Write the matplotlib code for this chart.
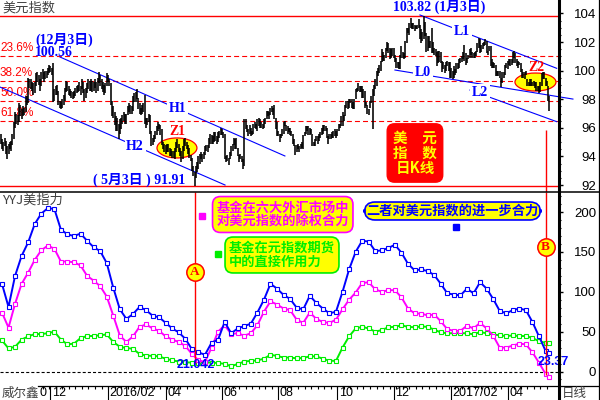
import numpy as np
import pandas as pd
import matplotlib
matplotlib.use("Agg")
import matplotlib.pyplot as plt
import matplotlib.transforms as mtransforms
from matplotlib.lines import Line2D
from matplotlib.patches import Ellipse

plt.rcParams["font.family"] = ["Liberation Sans", "Noto Sans CJK SC", "DejaVu Sans"]
plt.rcParams["lines.scale_dashes"] = False

CJK = ["Noto Sans CJK SC", "DejaVu Sans"]
SERIF = ["Liberation Serif", "Noto Sans CJK SC"]

# ---------------------------------------------------------------- data
trade_days = pd.bdate_range("2015-10-08", "2017-05-17")

# daily low / high of the US dollar index, one row per month
day_low = [
    94.9, 94.5, 94.4, 94.7, 94.2, 93.8, 94.2, 94.5, 94.4, 94.8, 95.2, 96.0, 96.3, 96.2, 96.4, 96.8, 96.6,
    96.8, 96.9, 97.1, 97.6, 97.7, 98.8, 98.7, 98.6, 98.3, 98.4, 98.9, 99.2, 99.0, 98.6, 98.9, 99.4, 99.2, 99.4, 99.5, 99.7, 99.8,
    99.9, 99.7, 97.8, 97.9, 98.3, 98.3, 97.6, 97.4, 97.3, 97.4, 97.6, 97.9, 98.5, 98.6, 98.3, 98.2, 98.1, 98.0, 98.1, 98.2, 98.4, 98.5, 98.6,
    98.3, 98.7, 98.4, 97.9, 98.1, 98.4, 98.7, 98.6, 98.6, 98.5, 98.6, 98.8, 98.4, 98.6, 99.1, 98.9, 98.7, 98.5, 98.3, 98.4, 98.9,
    99.2, 98.9, 97.6, 96.8, 96.7, 96.2, 95.8, 95.8, 95.2, 95.6, 95.9, 96.3, 96.5, 96.3, 96.3, 96.9, 97.1, 97.0, 97.0, 97.2, 97.8,
    97.8, 98.0, 97.3, 97.0, 96.9, 97.0, 97.1, 96.3, 96.0, 96.2, 96.4, 95.6, 94.7, 94.8, 95.0, 95.2, 95.5, 95.8, 95.9, 95.5, 94.8, 94.5, 94.3,
    94.2, 94.3, 94.3, 94.0, 94.0, 93.9, 93.9, 93.8, 94.3, 94.6, 94.3, 94.0, 93.6, 93.8, 94.4, 94.7, 94.5, 94.2, 93.9, 93.7, 93.0,
    92.6, 91.91, 92.5, 92.9, 93.1, 93.5, 93.8, 93.6, 93.8, 94.1, 94.4, 94.3, 94.6, 94.9, 94.9, 94.9, 95.0, 95.1, 94.9, 95.0, 95.3, 95.5,
    95.5, 95.3, 93.8, 93.6, 93.7, 93.4, 93.8, 94.0, 94.4, 94.8, 94.5, 94.5, 94.0, 93.6, 93.8, 93.6, 93.1, 93.3, 95.9, 95.7, 95.4, 95.6,
    95.4, 95.5, 95.6, 96.0, 95.9, 95.8, 96.1, 96.0, 96.0, 95.9, 96.0, 96.3, 96.6, 96.8, 96.6, 96.9, 97.1, 96.9, 96.6, 95.9, 95.4,
    95.4, 95.0, 95.3, 95.4, 95.6, 96.1, 95.8, 95.6, 95.7, 95.5, 95.4, 94.9, 94.7, 94.1, 94.3, 94.5, 94.3, 94.5, 94.6, 94.5, 95.4, 95.6, 95.8,
    95.5, 95.5, 95.6, 94.7, 94.7, 94.7, 95.1, 94.9, 95.1, 95.3, 95.5, 95.6, 95.8, 95.8, 95.3, 94.9, 95.2, 95.2, 95.3, 95.3, 95.4, 95.3,
    95.4, 95.8, 96.0, 96.1, 96.1, 96.5, 96.8, 97.4, 97.3, 97.4, 97.7, 97.4, 97.3, 97.3, 98.0, 98.5, 98.6, 98.5, 98.5, 98.1, 98.1,
    97.4, 97.5, 97.0, 96.9, 97.4, 97.7, 95.9, 98.2, 98.7, 98.9, 99.6, 99.8, 100.0, 100.6, 100.7, 100.7, 100.9, 101.4, 101.2, 100.8, 100.9, 101.0,
    100.9, 100.6, 100.2, 100.2, 100.1, 100.1, 100.9, 100.9, 100.8, 100.9, 101.9, 102.6, 102.5, 103.0, 102.9, 102.9, 102.8, 102.9, 102.9, 103.0, 102.2, 101.9,
    102.1, 102.2, 102.4, 101.3, 101.4, 101.6, 101.6, 101.2, 101.2, 101.1, 101.0, 100.3, 100.5, 100.6, 100.5, 99.9, 100.1, 99.8, 100.0, 100.3, 100.0, 99.5,
    99.5, 99.4, 99.5, 99.7, 99.8, 100.1, 100.2, 100.5, 100.6, 100.8, 100.7, 100.4, 100.5, 100.8, 100.9, 101.1, 100.9, 100.9, 100.9, 101.0,
    101.3, 101.6, 101.2, 101.3, 101.5, 101.7, 101.8, 101.2, 101.1, 101.4, 100.3, 100.2, 100.2, 100.2, 99.6, 99.6, 99.6, 99.5, 98.85, 99.1, 99.5, 99.7, 100.2,
    100.1, 100.4, 100.3, 100.4, 100.5, 100.9, 100.5, 100.3, 100.2, 100.4, 99.9, 99.5, 99.5, 99.4, 99.7, 98.9, 98.9, 98.9, 98.9, 98.9,
    98.9, 98.8, 98.6, 98.6, 98.4, 98.5, 98.9, 99.4, 99.4, 98.9, 98.9, 97.9, 97.2,
]
day_high = [
    95.6, 95.2, 95.0, 95.3, 95.1, 94.7, 94.9, 95.0, 95.1, 95.6, 96.4, 97.1, 97.0, 96.9, 97.7, 97.6, 97.3,
    97.5, 97.4, 98.2, 98.2, 99.5, 99.4, 99.4, 99.2, 99.1, 99.2, 99.8, 99.9, 99.7, 99.4, 99.9, 100.1, 99.9, 100.0, 100.0, 100.2, 100.4,
    100.3, 100.2, 100.56, 98.7, 98.9, 99.0, 98.6, 97.9, 97.8, 98.0, 98.3, 98.8, 99.3, 99.2, 98.9, 98.7, 98.6, 98.5, 98.6, 98.8, 98.9, 99.0, 99.2,
    98.9, 99.4, 99.2, 98.7, 98.8, 99.1, 99.4, 99.3, 99.4, 99.3, 99.2, 99.4, 99.2, 99.5, 99.9, 99.7, 99.4, 99.2, 99.0, 99.1, 99.8,
    99.7, 99.4, 99.1, 97.9, 97.5, 97.1, 96.8, 96.7, 96.3, 96.6, 96.7, 96.9, 97.1, 97.0, 97.0, 97.5, 97.7, 97.6, 97.5, 98.2, 98.4,
    98.5, 98.7, 98.1, 97.7, 97.4, 97.6, 97.7, 98.3, 96.7, 96.7, 97.0, 96.9, 95.8, 95.3, 95.5, 95.8, 96.1, 96.4, 96.3, 96.2, 95.9, 95.0, 94.9,
    94.8, 94.9, 94.9, 94.6, 94.5, 94.4, 94.4, 94.6, 95.0, 95.2, 94.9, 94.6, 94.4, 94.7, 95.2, 95.3, 95.0, 94.8, 94.6, 94.1, 93.9,
    93.3, 92.9, 93.3, 93.6, 94.0, 94.2, 94.3, 94.2, 94.3, 94.7, 94.8, 94.8, 95.3, 95.6, 95.5, 95.4, 95.7, 95.7, 95.4, 95.7, 95.8, 96.0,
    95.9, 95.7, 95.6, 94.0, 94.1, 93.9, 94.3, 94.7, 94.9, 95.3, 95.2, 95.3, 94.6, 94.1, 94.2, 94.0, 93.8, 96.6, 96.6, 96.2, 95.9, 96.2,
    96.0, 95.8, 96.3, 96.4, 96.3, 96.6, 96.7, 96.6, 96.4, 96.3, 96.6, 96.7, 97.2, 97.2, 97.1, 97.4, 97.5, 97.4, 97.6, 96.7, 96.4,
    95.8, 95.6, 95.6, 95.9, 96.4, 96.5, 96.2, 96.1, 96.0, 96.0, 95.8, 95.6, 95.2, 94.8, 94.8, 94.9, 94.7, 94.9, 95.0, 95.5, 95.7, 96.1, 96.1,
    96.1, 96.0, 95.9, 95.6, 95.0, 95.2, 95.4, 95.4, 95.6, 95.7, 96.0, 96.2, 96.2, 96.1, 96.0, 95.4, 95.6, 95.6, 95.7, 95.8, 95.9, 95.8,
    95.9, 96.3, 96.3, 96.8, 97.1, 96.9, 97.6, 97.9, 97.9, 98.0, 98.0, 98.0, 97.8, 98.0, 98.7, 98.8, 99.1, 98.9, 98.9, 98.9, 98.7,
    98.6, 97.8, 97.6, 97.3, 97.9, 98.2, 98.7, 99.0, 99.4, 100.0, 100.2, 100.4, 100.7, 101.5, 101.3, 101.1, 101.6, 102.0, 101.9, 101.6, 101.5, 101.6,
    101.6, 101.1, 100.9, 100.6, 100.6, 101.1, 101.7, 101.3, 101.2, 102.1, 103.0, 103.0, 103.3, 103.65, 103.3, 103.3, 103.2, 103.1, 103.2, 103.6, 103.2, 102.9,
    102.7, 103.82, 103.4, 102.6, 102.4, 102.4, 102.1, 103.0, 102.0, 101.6, 101.5, 101.3, 101.4, 101.4, 101.3, 100.7, 100.6, 100.4, 100.6, 100.7, 100.6, 100.6,
    100.2, 100.0, 100.3, 100.1, 100.5, 100.5, 100.8, 100.9, 101.0, 101.3, 101.8, 101.2, 100.9, 101.1, 101.5, 101.6, 101.3, 101.2, 101.3, 101.4,
    101.9, 102.3, 102.2, 101.8, 101.9, 102.0, 102.2, 102.1, 101.4, 101.7, 101.7, 100.8, 100.6, 100.5, 100.4, 100.0, 100.0, 100.0, 99.5, 99.9, 99.9, 100.4, 100.5,
    100.7, 100.8, 100.8, 100.8, 101.3, 101.4, 101.2, 100.8, 100.7, 100.6, 100.5, 100.1, 99.9, 99.9, 100.0, 99.4, 99.2, 99.4, 99.4, 99.2,
    99.3, 99.2, 99.2, 98.9, 98.9, 99.2, 99.8, 99.9, 99.9, 99.5, 99.3, 98.9, 98.2,
]

# weekly fund-force readings (one value per Friday plus the latest session)
force_total = [
    110, 81, 120, 145, 162, 185, 198, 205, 204, 178, 172, 170, 173, 164, 156, 151, 136, 105, 78, 66,
    72, 81, 77, 70, 68, 61, 54, 49, 41, 28, 24, 21.042, 36, 40, 62, 48, 54, 57, 60, 74,
    90, 110, 104, 96, 91, 80, 78, 95, 86, 79, 73, 75, 100, 128, 150, 164, 163, 151, 152, 155,
    159, 149, 135, 127, 128, 126, 121, 110, 98, 96.6, 95.4, 104, 98, 112, 104, 91, 76, 73, 77, 79,
    77, 62, 44, 26, 23.37,
]
force_fx = [
    74, 55, 85, 110, 124, 140, 152, 158, 154, 138, 138, 137, 133, 120, 114, 107, 94, 70, 45, 37,
    44, 56, 59, 54, 51, 44, 40, 37, 32, 22, 14, 12, 30, 50, 58, 47, 48, 45, 48, 58,
    75, 88, 84, 79, 77, 65, 61, 74, 66, 62, 61, 65, 78, 90, 99, 111, 112, 103, 100, 102,
    102, 93, 79, 73, 72.5, 70.5, 71.5, 63, 53, 51, 51, 57.5, 54, 61, 54, 45, 30, 30, 32.5, 35,
    34, 24, 11, -3, -7.5,
]
force_futures = [
    39, 29, 31, 40, 44, 47, 47, 48, 50, 40, 34, 35, 42, 44.5, 44.5, 45.5, 46.5, 37, 31, 29.5,
    28.5, 22, 20, 19.6, 19, 16, 14, 12.5, 11.5, 11.2, 11.2, 11.2, 11.2, 10.6, 9.6, 6.5, 9.5, 12.5, 13.3, 14,
    16, 21, 19.5, 17.5, 17.5, 16.5, 17, 19, 19, 16, 13.5, 13.3, 30, 44, 54, 56, 54, 50, 52, 55.5,
    56, 58, 56, 55.5, 56.5, 56, 52.5, 49, 48, 48, 48, 48, 46.6, 49.5, 48, 46.5, 45.4, 44.5, 45.2, 44.5,
    44.5, 42, 38, 36, 35.4,
]

swing_high, swing_low = 103.82, 91.91
fib_ratios = [0.236, 0.382, 0.5, 0.618]
fib_labels = ["23.6%", "38.2%", "50.0%", "61.8%"]

tick_months = ["2015-12", "2016-02", "2016-04", "2016-06", "2016-08",
               "2016-10", "2016-12", "2017-02", "2017-04"]
tick_texts = ["12", "2016/02", "04", "06", "08", "10", "12", "2017/02", "04"]

price_ticks = [92, 94, 96, 98, 100, 102, 104]
force_ticks = [0, 50, 100, 150, 200]

# channel lines: (bar index, price) end points
line_h1 = [(45.3, 100.95), (217.0, 94.03)]
line_h2 = [(-0.5, 98.85), (171.3, 92.0)]
line_l1 = [(320.1, 103.89), (424.5, 100.16)]
line_l0 = [(301.0, 100.04), (436.9, 98.01)]
line_l2 = [(358.3, 98.64), (424.5, 96.43)]

# ---------------------------------------------------------------- layout
W, H = 600, 400
fig = plt.figure(figsize=(W / 100, H / 100), dpi=100)
fig.patch.set_facecolor("white")


def fx(px):
    return px / W


def fy(py):
    return 1 - py / H


ax1 = fig.add_axes([0, fy(192), fx(558), 192 / H])
ax2 = fig.add_axes([0, fy(386), fx(558), 194 / H])

n = len(trade_days)
x = np.arange(n)
assert len(day_low) == n and len(day_high) == n, (len(day_low), len(day_high), n)

fridays = np.where(trade_days.weekday == 4)[0]
week_pos = np.append(fridays, n - 1)
assert len(week_pos) == len(force_total) == len(force_fx) == len(force_futures), \
    (len(week_pos), len(force_total), len(force_fx), len(force_futures))

for ax in (ax1, ax2):
    ax.set_xlim(-0.5, 425.5)
    for s in ax.spines.values():
        s.set_visible(False)
    ax.patch.set_alpha(0)
    ax.tick_params(axis="x", which="both", bottom=False, labelbottom=False)
    ax.yaxis.tick_right()

ax1.set_ylim(91.511, 104.937)
ax2.set_ylim(-18.19, 225.2)

ax1.set_yticks(price_ticks)
ax1.set_yticks(np.arange(92, 104.01, 0.5), minor=True)
ax2.set_yticks(force_ticks)
ax2.set_yticks(np.arange(-10, 221, 10), minor=True)
for ax in (ax1, ax2):
    ax.tick_params(axis="y", which="major", direction="out", length=3.5, width=1,
                   pad=24, labelsize=9.5, colors="black")
    ax.tick_params(axis="y", which="minor", direction="out", length=2, width=0.8)
    for lab in ax.get_yticklabels():
        lab.set_horizontalalignment("right")

RED = "#ff0000"
BLUE = "#0000ff"
MAG = "#ff00ff"
GRN = "#00ee00"
YEL = "#ffff00"
GRAY = "#404040"

# ---------------------------------------------------------------- price panel
span = swing_high - swing_low
ytrans = ax1.get_yaxis_transform()
for r, lab in zip(fib_ratios, fib_labels):
    lvl = swing_high - r * span
    ax1.axhline(lvl, color=RED, lw=0.8, ls=(0, (3.6, 2.2)), zorder=1)
    ax1.annotate(lab, xy=(0, lvl), xycoords=ytrans, xytext=(0, 2),
                 textcoords="offset pixels", ha="left", va="bottom",
                 color=RED, fontsize=8.5, zorder=2)
ax1.axhline(swing_high, color=RED, lw=1.0, zorder=1)
ax1.axhline(swing_low, color=RED, lw=1.0, zorder=1)

ax1.add_patch(Ellipse((134.6, 94.59), 30.5, 1.4, facecolor=YEL, edgecolor=RED,
                      lw=0.9, zorder=1.8))
ax1.add_patch(Ellipse((408.3, 99.2), 31.3, 1.26, facecolor=YEL, edgecolor=RED,
                      lw=0.9, zorder=1.8))

for seg in (line_h1, line_h2, line_l1, line_l0, line_l2):
    (x0, y0), (x1, y1) = seg
    ax1.plot([x0, x1], [y0, y1], color=BLUE, lw=0.8, zorder=2.2, clip_on=False)

ax1.vlines(x, day_low, day_high, color="black", lw=1.15, zorder=3)

lab_style = dict(color=BLUE, fontsize=10, fontweight="bold", family=SERIF,
                 ha="center", va="center", zorder=4,
                 bbox=dict(boxstyle="square,pad=0.12", fc="white", ec="none"))
ax1.text(135.0, 97.38, "H1", **lab_style)
ax1.text(102.6, 94.66, "H2", **lab_style)
ax1.text(352.2, 102.70, "L1", **lab_style)
ax1.text(322.4, 99.90, "L0", **lab_style)
ax1.text(365.9, 98.50, "L2", **lab_style)

note = dict(color=BLUE, fontsize=10, fontweight="bold", family=SERIF, va="center",
            ha="left", zorder=4)
ax1.text(26.2, 102.14, "(12月3日)", **note)
ax1.text(26.5, 101.27, "100.56", **note)
ax1.text(70.5, 92.35, "( 5月3日 ) 91.91", **note)
ax1.text(299.5, 104.45, "103.82 (1月3日)", **note)

zl = dict(color=RED, fontsize=10, fontweight="bold", family=SERIF, ha="center",
          va="center", zorder=4)
ax1.text(134.6, 95.71, "Z1", **zl)
ax1.text(408.7, 100.25, "Z2", **zl)

ax1.text(316.3, 94.24, "美　元\n指　数\n日K线", color=YEL, fontsize=10.5,
         fontweight="bold", family=CJK, ha="center", va="center",
         multialignment="center", linespacing=0.95, zorder=5,
         bbox=dict(boxstyle="round,pad=0.4,rounding_size=0.5", fc=RED, ec=RED))

ax1.vlines(416, 91.511, 95.86, color=RED, lw=1.0, zorder=4)

# ---------------------------------------------------------------- force panel
ax2.axhline(0, color="black", lw=0.8, ls=(0, (2.2, 1.5)), zorder=1)
mk = dict(marker="s", ms=2.6, mfc="white", mew=0.8, lw=1.4, zorder=3)
ax2.plot(week_pos, force_futures, color=GRN, mec=GRN, **mk)
ax2.plot(week_pos, force_fx, color=MAG, mec=MAG, **mk)
ax2.plot(week_pos, force_total, color=BLUE, mec=BLUE, **mk)

ax2.vlines(148, 10, 225.2, color=RED, lw=1.0, zorder=4)
ax2.vlines(416, -5, 225.2, color=RED, lw=1.0, zorder=4)
for xi, yi, t in ((148, 124.8, "A"), (416, 156.8, "B")):
    ax2.plot([xi], [yi], marker="o", ms=12.5, mfc=YEL, mec=RED, mew=1.1,
             zorder=5, clip_on=False)
    ax2.text(xi, yi, t, color=RED, fontsize=9.5, fontweight="bold",
             family=SERIF, ha="center", va="center", zorder=6)

ax2.text(134.6, 8.2, "21.042", color=BLUE, fontsize=9, fontweight="bold",
         ha="left", va="center", zorder=6)
ax2.text(410.2, 11.9, "23.37", color=BLUE, fontsize=9, fontweight="bold",
         ha="left", va="center", zorder=6, clip_on=False)

# legend boxes
fig.text(fx(216.5), fy(214.5), "基金在六大外汇市场中\n对美元指数的除权合力", color=MAG,
         fontsize=9.5, fontweight="bold", family=CJK, ha="left", va="center",
         linespacing=1.0,
         bbox=dict(boxstyle="round,pad=0.3,rounding_size=0.6", fc=YEL, ec=MAG, lw=1.2))
fig.text(fx(229), fy(255), "基金在元指数期货\n中的直接作用力", color=GRN,
         fontsize=9.5, fontweight="bold", family=CJK, ha="left", va="center",
         linespacing=1.0,
         bbox=dict(boxstyle="round,pad=0.3,rounding_size=0.6", fc=YEL, ec=GRN, lw=1.2))
fig.text(fx(452.5), fy(211), "二者对美元指数的进一步合力", color=BLUE,
         fontsize=9.5, fontweight="bold", family=CJK, ha="center", va="center",
         bbox=dict(boxstyle="round,pad=0.15,rounding_size=0.8", fc=YEL, ec=BLUE, lw=1.2))
for cx, cy, c in ((201.7, 215.7, MAG), (218.3, 254.3, GRN), (455.7, 226.7, BLUE)):
    fig.add_artist(Line2D([fx(cx)], [fy(cy)], marker="s", ms=4.8, color=c, lw=0))

# ---------------------------------------------------------------- date axis
xtrans = mtransforms.blended_transform_factory(ax2.transData, ax2.transAxes)
mondays = [i for i in np.where(trade_days.weekday == 0)[0] if i >= 29]
ax2.vlines(mondays, -3 / 194, 0, transform=xtrans, color="black", lw=0.8, clip_on=False)
for m, t in zip(tick_months, tick_texts):
    i = int(np.searchsorted(trade_days, pd.Timestamp(m + "-01")))
    ax2.vlines(i, -14 / 194, 0, transform=xtrans, color="black", lw=0.8, clip_on=False)
    ax2.annotate(t, xy=(i, 0), xycoords=xtrans, xytext=(1.5, -7.5),
                 textcoords="offset pixels", ha="left", va="center", fontsize=9)

# frame lines
fig.add_artist(Line2D([0, 1], [fy(192), fy(192)], color="black", lw=1.1))
fig.add_artist(Line2D([fx(38), 1], [fy(386), fy(386)], color="black", lw=0.9))
fig.add_artist(Line2D([fx(559), fx(559)], [0, 1], color="black", lw=2.2))
fig.add_artist(Line2D([fx(598.5), fx(598.5)], [0, 1], color="black", lw=0.9))

# captions
fig.text(fx(2), fy(8), "美元指数", color=GRAY, fontsize=9.5, family=CJK, ha="left", va="center")
fig.text(fx(2), fy(200.5), "YYJ美指力", color=GRAY, fontsize=9.5, family=CJK, ha="left", va="center")
fig.text(fx(2), fy(393), "威尔鑫", color=GRAY, fontsize=9, family=CJK, ha="left", va="center")
fig.text(fx(40), fy(393), "0", color="black", fontsize=9, ha="left", va="center")
fig.text(fx(562), fy(393), "日线", color=GRAY, fontsize=9, family=CJK, ha="left", va="center")

fig.savefig("out.png", dpi=100, facecolor="white")
